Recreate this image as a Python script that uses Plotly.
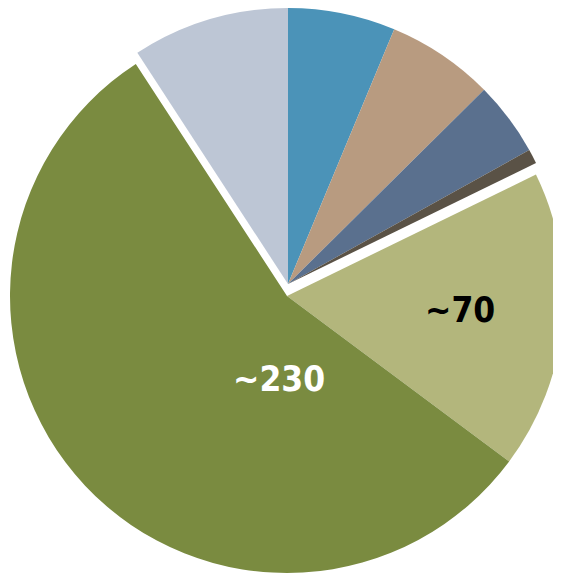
import plotly.graph_objects as go

# Data (clockwise from 12 o'clock)
categories = ["A", "B", "C", "D", "E", "F", "G"]
values = [26, 26, 18, 3.5, 72, 230, 38]
slice_labels = ["", "", "", "", "~70", "~230", ""]
colors = ["#4B93B8", "#B89B80", "#5A708E", "#5A5246", "#B3B67C", "#7A8B40", "#BDC6D5"]
big_group = [False, False, False, False, True, True, False]

W, H = 561, 574
OFF = 8  # page body margin
TRANSPARENT = "rgba(0,0,0,0)"

def px_domain(cx, cy, r):
    cx -= OFF
    cy -= OFF
    x0 = max(0.0, (cx - r) / W)
    x1 = min(1.0, (cx + r) / W)
    y0 = max(0.0, (H - cy - r) / H)
    y1 = min(1.0, (H - cy + r) / H)
    return dict(x=[x0, x1], y=[y0, y1])

fig = go.Figure()

# Large group (pulled apart from the small group)
fig.add_trace(go.Pie(
    labels=categories, values=values, sort=False, direction="clockwise", rotation=0,
    marker=dict(colors=[c if g else TRANSPARENT for c, g in zip(colors, big_group)],
                line=dict(width=0)),
    textinfo="none", hoverinfo="skip", showlegend=False,
    domain=px_domain(287, 296, 277),
))
# Small group
fig.add_trace(go.Pie(
    labels=categories, values=values, sort=False, direction="clockwise", rotation=0,
    marker=dict(colors=[TRANSPARENT if g else c for c, g in zip(colors, big_group)],
                line=dict(width=0)),
    textinfo="none", hoverinfo="skip", showlegend=False,
    domain=px_domain(288, 284, 276),
))

label_pos = {4: (460, 310, "black"), 5: (279, 379, "white")}
for i, (x, y, col) in label_pos.items():
    fig.add_annotation(
        x=(x - OFF) / W, y=1 - (y - OFF) / H, xref="paper", yref="paper",
        text="<b>" + slice_labels[i] + "</b>", showarrow=False,
        font=dict(family="DejaVu Sans Condensed, DejaVu Sans", size=35, color=col),
        xanchor="center", yanchor="middle",
    )

fig.update_layout(
    width=W, height=H, margin=dict(l=0, r=0, t=0, b=0),
    paper_bgcolor="white", plot_bgcolor="white", showlegend=False,
)

fig.write_html("out.html")
